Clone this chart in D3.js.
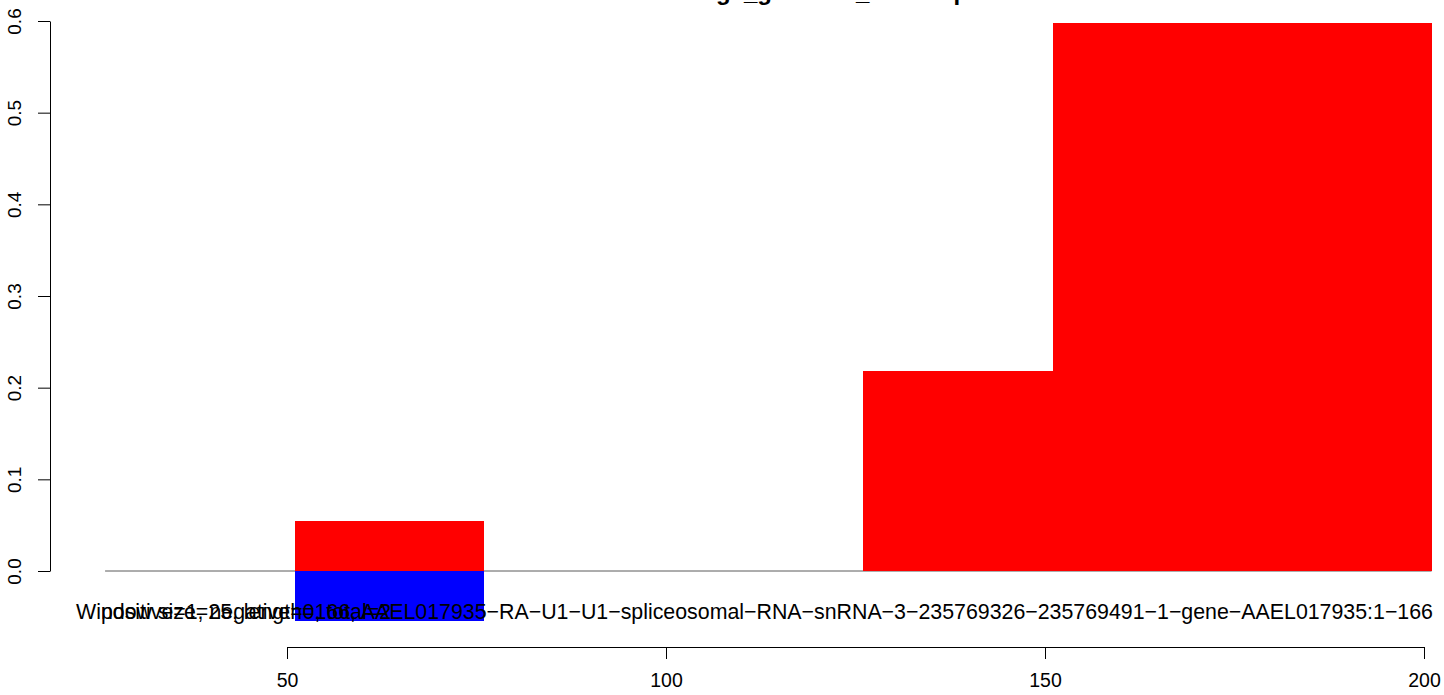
<!DOCTYPE html>
<meta charset="utf-8">
<style>
body { margin: 0; background: #fff; }
svg text { font-family: "Liberation Sans", Arial, sans-serif; fill: #000; }
</style>
<svg width="1444" height="695"></svg>
<script src="https://d3js.org/d3.v7.min.js"></script>
<script>

// window starts (size 25) and the ratio in each window
var windowStart = [26, 51, 76, 101, 126, 151, 176];
var windowSize = 25;
var positive = [0, 0.0545, 0, 0, 0.218, 0.598, 0.598];
var negative = [0, -0.0545, 0, 0, 0, 0, 0];
var xTicks = [50, 100, 150, 200];
var yTicks = [0, 0.1, 0.2, 0.3, 0.4, 0.5, 0.6];

var titleText = "AAEL017935 log2_genomic_heatmap";
// R draws hyphens as minus signs
var infoText = "Window size=25, length=166, AAEL017935\u2212RA\u2212U1\u2212U1\u2212spliceosomal\u2212RNA\u2212snRNA\u22123\u2212235769326\u2212235769491\u22121\u2212gene\u2212AAEL017935:1\u2212166";
var countText = "positive=1, negative=0, total=2";

var svg = d3.select("svg");

var x = d3.scaleLinear().domain([50, 200]).range([287, 1424]);
var y = d3.scaleLinear().domain([0, 0.6]).range([571, 21]);

// baseline
svg.append("line")
  .attr("x1", x(windowStart[0]))
  .attr("x2", x(windowStart[windowStart.length - 1] + windowSize))
  .attr("y1", y(0)).attr("y2", y(0))
  .attr("stroke", "#5a5a5a")
  .attr("stroke-width", 1);

var bars = windowStart.map(function(s, i) {
  return {start: s, pos: positive[i], neg: negative[i]};
});

svg.append("g").selectAll("rect")
  .data(bars.filter(function(d) { return d.pos > 0; }))
  .enter().append("rect")
    .attr("x", function(d) { return x(d.start); })
    .attr("width", function(d) { return x(d.start + windowSize) - x(d.start); })
    .attr("y", function(d) { return y(d.pos); })
    .attr("height", function(d) { return y(0) - y(d.pos); })
    .attr("fill", "#ff0000")
    .attr("shape-rendering", "crispEdges");

svg.append("g").selectAll("rect")
  .data(bars.filter(function(d) { return d.neg < 0; }))
  .enter().append("rect")
    .attr("x", function(d) { return x(d.start); })
    .attr("width", function(d) { return x(d.start + windowSize) - x(d.start); })
    .attr("y", y(0))
    .attr("height", function(d) { return y(d.neg) - y(0); })
    .attr("fill", "#0000ff")
    .attr("shape-rendering", "crispEdges");

// y axis (R style, rotated labels)
var yAxis = svg.append("g")
  .attr("transform", "translate(50,0)")
  .call(d3.axisLeft(y).tickValues(yTicks).tickSize(12).tickSizeOuter(0)
    .tickFormat(d3.format(".1f")));
yAxis.select(".domain").attr("stroke", "#000");
yAxis.selectAll(".tick line").attr("stroke", "#000");
yAxis.selectAll(".tick text")
  .attr("font-size", 19)
  .attr("x", 0).attr("dy", 0)
  .attr("text-anchor", "middle")
  .attr("transform", "translate(-29,0) rotate(-90)");

// x axis
var xAxis = svg.append("g")
  .attr("transform", "translate(0,647)")
  .call(d3.axisBottom(x).tickValues(xTicks).tickSize(12).tickSizeOuter(0)
    .tickFormat(d3.format("d")));
xAxis.select(".domain").attr("stroke", "#000");
xAxis.selectAll(".tick line").attr("stroke", "#000");
xAxis.selectAll(".tick text")
  .attr("font-size", 19.5)
  .attr("y", 40).attr("dy", 0);

// overlapping labels under the bars
var info = svg.append("text")
  .attr("x", 76).attr("y", 619)
  .attr("font-size", 21.35)
  .text(infoText);
var offset = info.node().getSubStringLength(0, 2);
svg.append("text")
  .attr("x", 76 + offset).attr("y", 619)
  .attr("font-size", 21.35)
  .text(countText);

// title, mostly clipped by the top edge
var title = svg.append("text")
  .attr("y", 0)
  .attr("font-size", 24)
  .attr("font-weight", "bold")
  .text(titleText);
var gIndex = titleText.indexOf("g");
var pre = title.node().getSubStringLength(0, gIndex);
title.attr("x", 716 - pre);

</script>
